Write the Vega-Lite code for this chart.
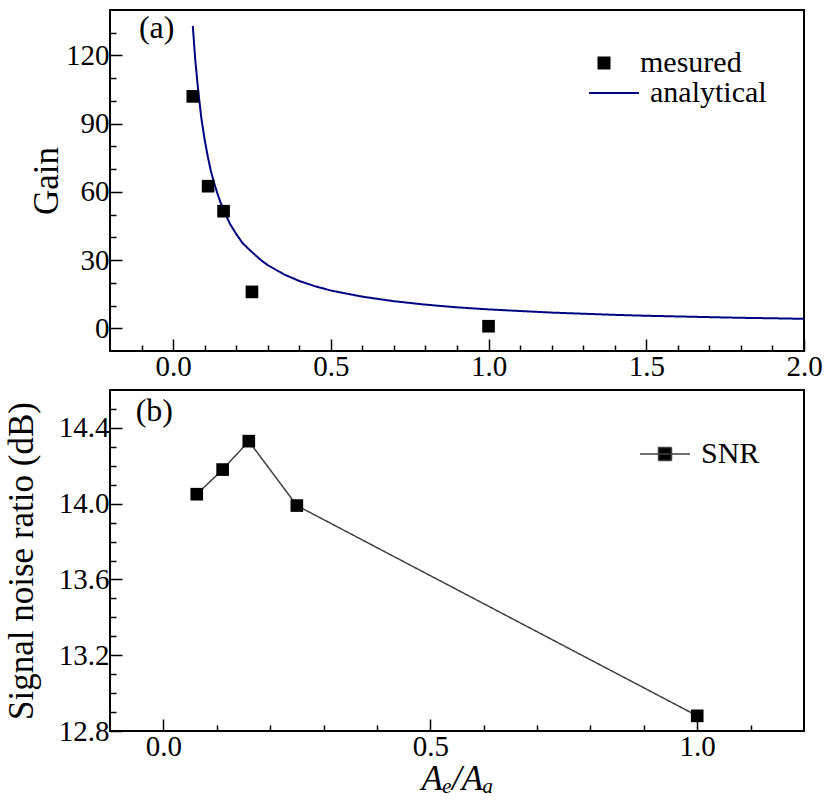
{
  "$schema": "https://vega.github.io/schema/vega-lite/v6.json",
  "background": "white",
  "padding": {"left": 3, "top": 9, "right": 8, "bottom": 5},
  "spacing": 39,
  "bounds": "flush",
  "resolve": {"scale": {"strokeDash": "independent", "shape": "independent"}, "legend": {"strokeDash": "independent", "shape": "independent"}},
  "datasets": {
    "curve": [
      {"ratio": 0.0625, "gain": 133, "series": "analytical"},
      {"ratio": 0.07, "gain": 118.5, "series": "analytical"},
      {"ratio": 0.08, "gain": 104, "series": "analytical"},
      {"ratio": 0.09, "gain": 92, "series": "analytical"},
      {"ratio": 0.1, "gain": 83, "series": "analytical"},
      {"ratio": 0.11, "gain": 75.5, "series": "analytical"},
      {"ratio": 0.12, "gain": 69, "series": "analytical"},
      {"ratio": 0.13, "gain": 64, "series": "analytical"},
      {"ratio": 0.14, "gain": 59.5, "series": "analytical"},
      {"ratio": 0.15, "gain": 55.5, "series": "analytical"},
      {"ratio": 0.16, "gain": 52, "series": "analytical"},
      {"ratio": 0.18, "gain": 46, "series": "analytical"},
      {"ratio": 0.2, "gain": 41.5, "series": "analytical"},
      {"ratio": 0.22, "gain": 37.5, "series": "analytical"},
      {"ratio": 0.25, "gain": 33.5, "series": "analytical"},
      {"ratio": 0.28, "gain": 29.8, "series": "analytical"},
      {"ratio": 0.3, "gain": 27.8, "series": "analytical"},
      {"ratio": 0.35, "gain": 23.8, "series": "analytical"},
      {"ratio": 0.4, "gain": 20.8, "series": "analytical"},
      {"ratio": 0.45, "gain": 18.5, "series": "analytical"},
      {"ratio": 0.5, "gain": 16.6, "series": "analytical"},
      {"ratio": 0.6, "gain": 13.9, "series": "analytical"},
      {"ratio": 0.7, "gain": 11.9, "series": "analytical"},
      {"ratio": 0.8, "gain": 10.4, "series": "analytical"},
      {"ratio": 0.9, "gain": 9.2, "series": "analytical"},
      {"ratio": 1.0, "gain": 8.3, "series": "analytical"},
      {"ratio": 1.1, "gain": 7.6, "series": "analytical"},
      {"ratio": 1.2, "gain": 6.9, "series": "analytical"},
      {"ratio": 1.3, "gain": 6.4, "series": "analytical"},
      {"ratio": 1.4, "gain": 5.9, "series": "analytical"},
      {"ratio": 1.5, "gain": 5.5, "series": "analytical"},
      {"ratio": 1.6, "gain": 5.2, "series": "analytical"},
      {"ratio": 1.7, "gain": 4.9, "series": "analytical"},
      {"ratio": 1.8, "gain": 4.6, "series": "analytical"},
      {"ratio": 1.9, "gain": 4.4, "series": "analytical"},
      {"ratio": 2.0, "gain": 4.15, "series": "analytical"}
    ],
    "gain": [
      {"ratio": 0.0625, "gain": 102, "series": "mesured"},
      {"ratio": 0.111, "gain": 62.5, "series": "mesured"},
      {"ratio": 0.16, "gain": 51.5, "series": "mesured"},
      {"ratio": 0.25, "gain": 16, "series": "mesured"},
      {"ratio": 1.0, "gain": 0.9, "series": "mesured"}
    ],
    "snr": [
      {"ratio": 0.0625, "snr": 14.05, "series": "SNR"},
      {"ratio": 0.111, "snr": 14.18, "series": "SNR"},
      {"ratio": 0.16, "snr": 14.33, "series": "SNR"},
      {"ratio": 0.25, "snr": 13.99, "series": "SNR"},
      {"ratio": 1.0, "snr": 12.88, "series": "SNR"}
    ]
  },
  "config": {
    "font": "Liberation Serif",
    "view": {"stroke": "black", "strokeWidth": 2},
    "axis": {
      "labelFont": "Liberation Serif",
      "labelFontSize": 29,
      "labelColor": "black",
      "titleFont": "Liberation Serif",
      "titleFontSize": 35,
      "titleFontWeight": "normal",
      "titleColor": "black",
      "domain": false,
      "grid": false,
      "tickColor": "black",
      "tickWidth": 1.5,
      "labelFlush": false,
      "labelOverlap": false,
      "labelBound": false
    },
    "legend": {
      "labelFont": "Liberation Serif",
      "labelFontSize": 30,
      "labelColor": "black",
      "padding": 0
    }
  },
  "vconcat": [
    {
      "width": 694,
      "height": 341,
      "resolve": {"axis": {"x": "independent", "y": "independent"}},
      "layer": [
        {
          "data": {"name": "curve"},
          "mark": {"type": "line", "color": "#000080", "strokeWidth": 2, "clip": true},
          "encoding": {
            "x": {"field": "ratio", "type": "quantitative",
              "scale": {"domain": [-0.2, 2.0], "nice": false, "zero": false},
              "axis": {"orient": "bottom", "values": [0, 0.5, 1, 1.5, 2], "format": ".1f", "tickSize": -12, "labelPadding": 13, "title": null, "labelFont": "Liberation Serif", "labelFontSize": 29}},
            "y": {"field": "gain", "type": "quantitative",
              "scale": {"domain": [-10, 140], "nice": false, "zero": false},
              "axis": {"orient": "left", "values": [0, 30, 60, 90, 120], "format": "d", "tickSize": -12, "labelPadding": 13, "title": "Gain", "titlePadding": 1, "labelFont": "Liberation Serif", "labelFontSize": 29, "titleFont": "Liberation Serif", "titleFontSize": 35}},
            "strokeDash": {"field": "series", "type": "nominal",
              "scale": {"domain": ["analytical"], "range": [[1, 0]]},
              "legend": {"orient": "none", "legendX": 478, "legendY": 57, "title": null, "symbolType": "stroke", "symbolSize": 2500, "symbolStrokeWidth": 2, "symbolStrokeColor": "#000080", "labelOffset": 10, "labelFont": "Liberation Serif", "labelFontSize": 30,
                "encode": {"symbols": {"update": {"stroke": {"value": "#000080"}, "strokeWidth": {"value": 2}}}}}}
          }
        },
        {
          "data": {"name": "gain"},
          "mark": {"type": "point", "shape": "square", "filled": true, "color": "black", "size": 160, "opacity": 1},
          "encoding": {
            "x": {"field": "ratio", "type": "quantitative",
              "scale": {"domain": [-0.2, 2.0], "nice": false, "zero": false},
              "axis": {"orient": "bottom", "values": [-0.1, 0.1, 0.2, 0.3, 0.4, 0.6, 0.7, 0.8, 0.9, 1.1, 1.2, 1.3, 1.4, 1.6, 1.7, 1.8, 1.9], "labels": false, "tickSize": -6, "title": null}},
            "y": {"field": "gain", "type": "quantitative",
              "scale": {"domain": [-10, 140], "nice": false, "zero": false},
              "axis": {"orient": "left", "values": [10, 20, 40, 50, 70, 80, 100, 110, 130], "labels": false, "tickSize": -6, "title": null}},
            "shape": {"field": "series", "type": "nominal",
              "scale": {"domain": ["mesured"], "range": ["square"]},
              "legend": {"orient": "none", "legendX": 479, "legendY": 38, "title": null, "symbolSize": 169, "symbolFillColor": "black", "symbolStrokeColor": "black", "symbolStrokeWidth": 0, "labelOffset": 21, "labelFont": "Liberation Serif", "labelFontSize": 30}}
          }
        },
        {
          "data": {"values": [{}]},
          "mark": {"type": "text", "text": "(a)", "font": "Liberation Serif", "fontSize": 32, "color": "black", "align": "center", "baseline": "middle"},
          "encoding": {
            "x": {"datum": -0.052, "type": "quantitative", "axis": null},
            "y": {"datum": 132, "type": "quantitative", "axis": null}
          }
        }
      ]
    },
    {
      "width": 694,
      "height": 341,
      "resolve": {"axis": {"x": "independent", "y": "independent"}},
      "layer": [
        {
          "data": {"name": "snr"},
          "mark": {"type": "line", "color": "#404040", "strokeWidth": 1.5},
          "encoding": {
            "x": {"field": "ratio", "type": "quantitative",
              "scale": {"domain": [-0.1, 1.2], "nice": false, "zero": false},
              "axis": {"orient": "bottom", "values": [0, 0.5, 1], "format": ".1f", "tickSize": -12, "labelPadding": 13, "title": "Aₑ/Aₐ", "titleFontStyle": "italic", "titlePadding": 0, "labelFont": "Liberation Serif", "labelFontSize": 29, "titleFont": "Liberation Serif", "titleFontSize": 35}},
            "y": {"field": "snr", "type": "quantitative",
              "scale": {"domain": [12.8, 14.6], "nice": false, "zero": false},
              "axis": {"orient": "left", "values": [12.8, 13.2, 13.6, 14.0, 14.4], "format": ".1f", "tickSize": -12, "labelPadding": 13, "title": "Signal noise ratio (dB)", "titlePadding": 19, "labelFont": "Liberation Serif", "labelFontSize": 29, "titleFont": "Liberation Serif", "titleFontSize": 35}},
            "strokeDash": {"field": "series", "type": "nominal",
              "scale": {"domain": ["SNR"], "range": [[1, 0]]},
              "legend": {"orient": "none", "legendX": 529, "legendY": 38, "title": null,
                "symbolType": "M-1,0H1M-0.26,-0.26H0.26V0.26H-0.26Z", "symbolSize": 2500, "symbolStrokeWidth": 1.5, "symbolFillColor": "black", "symbolStrokeColor": "#404040", "labelOffset": 10, "labelFont": "Liberation Serif", "labelFontSize": 30,
                "encode": {"symbols": {"update": {"fill": {"value": "black"}, "fillOpacity": {"value": 1}, "stroke": {"value": "#404040"}, "strokeWidth": {"value": 1.5}}}}}}
          }
        },
        {
          "data": {"name": "snr"},
          "mark": {"type": "point", "shape": "square", "filled": true, "color": "black", "size": 160, "opacity": 1},
          "encoding": {
            "x": {"field": "ratio", "type": "quantitative",
              "scale": {"domain": [-0.1, 1.2], "nice": false, "zero": false},
              "axis": {"orient": "bottom", "values": [0.1, 0.2, 0.3, 0.4, 0.6, 0.7, 0.8, 0.9, 1.1], "labels": false, "tickSize": -6, "title": null}},
            "y": {"field": "snr", "type": "quantitative",
              "scale": {"domain": [12.8, 14.6], "nice": false, "zero": false},
              "axis": {"orient": "left", "values": [12.9, 13.0, 13.1, 13.3, 13.4, 13.5, 13.7, 13.8, 13.9, 14.1, 14.2, 14.3, 14.5], "labels": false, "tickSize": -6, "title": null}}
          }
        },
        {
          "data": {"values": [{}]},
          "mark": {"type": "text", "text": "(b)", "font": "Liberation Serif", "fontSize": 32, "color": "black", "align": "center", "baseline": "middle"},
          "encoding": {
            "x": {"datum": -0.017, "type": "quantitative", "axis": null},
            "y": {"datum": 14.49, "type": "quantitative", "axis": null}
          }
        }
      ]
    }
  ]
}
